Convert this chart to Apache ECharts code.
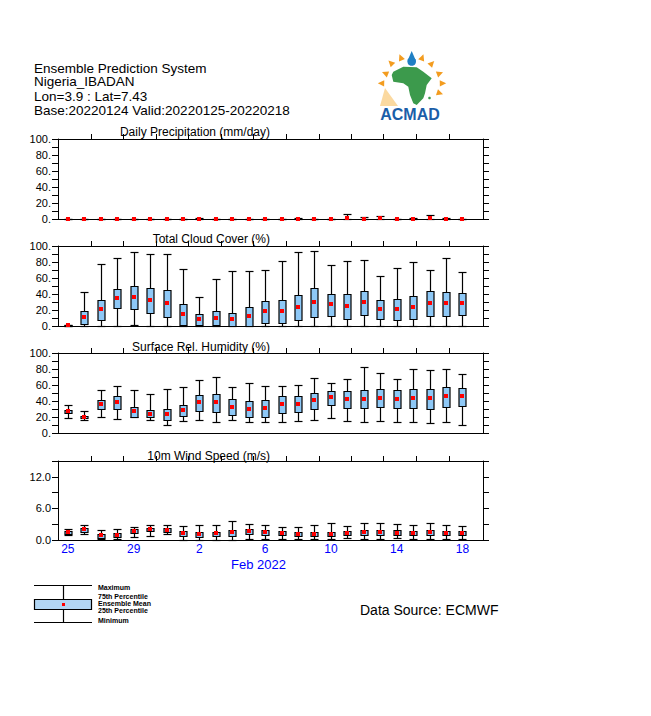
<!DOCTYPE html>
<html><head><meta charset="utf-8">
<script src="https://cdn.jsdelivr.net/npm/echarts@6/dist/echarts.min.js"></script>
<style>html,body{margin:0;padding:0;background:#fff}#c{width:651px;height:716px}</style>
</head><body><div id="c"></div>
<script>
// ---- data (index 0 = Jan 25, 2022 ... index 24 = Feb 18, 2022) ----
const dayLabelIdx = [0, 4, 8, 12, 16, 20, 24];
const dayLabels = ['25', '29', '2', '6', '10', '14', '18'];
const topTicks = [1.40, 3.37, 5.35, 7.33, 9.31, 11.27, 13.3, 15.3, 17.25, 19.2, 21.2, 23.2];

const precMin  = [0,0,0,0,0,0,0,0,0,0,0,0,0,0,0,0,0,0,0,0,0,0,0,0,0];
const precQ1   = [0,0,0,0,0,0,0,0,0,0,0,0,0,0,0,0,0,0,0,0,0,0,0,0,0];
const precQ3   = [0,0,0,0,0,0,0,0,0.3,0,0,0,0,0,0.3,0,0,0.4,0.2,0.3,0,0.2,0.4,0.2,0];
const precMax  = [0,0,0,0,0,0,0,0,1,0,0,0,0,0,1,0,0.5,6.3,2.5,3.8,0,1,5,1,0.5];
const precMean = [0.2,0.2,0.2,0.2,0.2,0.2,0.2,0.2,0.3,0.2,0.2,0.2,0.2,0.2,0.3,0.2,0.3,0.9,0.5,0.7,0.2,0.3,0.8,0.3,0.2];

const cloudMin  = [0,0,0,0,1,0,0,0,0,0,0,0,0,0,0,0,0,0,0,0,0,0,0,0,0];
const cloudQ1   = [0,2.5,7.5,22.5,21.3,16.3,11.3,1.3,1.3,1.3,0,0,3.8,3.8,7.5,11.3,12.5,8.8,13.8,8.8,7.5,8.8,12.5,12.5,13.8];
const cloudQ3   = [1.5,19.2,32.5,46.3,50,47.5,45,27.5,15,19.2,16.7,23.8,31.3,32.5,38.8,47.5,40,40,43.8,32.5,33.8,37.5,43.8,42.5,41.3];
const cloudMax  = [1.5,42.5,77.5,85,92.5,90,90,71.3,36.3,58.8,68.8,68.8,70,81.3,92.5,93.8,76.3,81.3,82.5,62.5,72.5,80,70,85,67.5];
const cloudMean = [1,11.3,20.8,34.6,36.7,32.5,29.2,14.6,8.3,10.4,8.3,12.5,18.3,18.8,23.3,30,27.5,25,29.6,21.7,20.8,23.8,29.2,28.8,28.3];

const rhMin  = [19.2,16.7,20,17.5,20,16.3,10,15,16.3,13.8,16.3,13.8,13.8,13.8,15,16.3,18.8,15,13.8,15,13.8,13.8,12.5,13.8,10];
const rhQ1   = [25,18.8,30,30,20,20,16.3,21.3,27.5,26.3,22.5,20,20,25,26.3,30,35,31.3,31.3,32.5,31.3,31.3,30,32.5,33.8];
const rhQ3   = [28.8,21.7,41.3,46.3,32.5,28.8,30,35,47.5,48.8,42.5,40,41.3,46.3,46.3,50,52.5,52.5,53.8,55,53.8,55,55,57.5,56.3];
const rhMax  = [35,27.5,53.8,58.8,53.8,48.8,55,57.5,66.3,70,57.5,62.5,58.8,58.8,60,68.8,62.5,67.5,82.5,75,67.5,80,78.8,80,73.8];
const rhMean = [27.5,20.4,36.3,38.8,27.9,24.2,23.8,28.3,38.3,38.8,32.9,30.4,31.3,36.7,36.7,41.3,44.6,42.5,42.5,43.8,43,43.8,43.3,46.3,45.8];

const windMin  = [0.96,1.15,0.13,0.2,0.57,0.77,1.08,0.06,0.06,0.06,0.06,0.13,0.13,0.13,0.13,0.13,0.13,0.32,0.13,0.13,0.32,0.13,0.13,0.13,0.13];
const windQ1   = [1.21,1.6,0.45,0.57,1.4,1.72,1.53,0.83,0.64,0.7,0.7,1.15,1.02,0.9,0.7,0.77,0.7,0.9,0.96,0.96,0.9,0.9,0.96,0.9,0.9];
const windQ3   = [1.72,2.3,1.2,1.28,2.17,2.36,2.3,1.66,1.47,1.6,1.85,2.04,1.85,1.66,1.47,1.47,1.47,1.66,1.85,1.85,1.85,1.66,1.85,1.66,1.66];
const windMax  = [2.04,2.8,1.85,2.04,2.4,2.8,2.8,2.6,2.8,2.8,3.57,3.0,2.8,2.4,2.4,2.8,3.2,2.6,3.2,3.2,3.0,2.8,3.2,2.8,2.6];
const windMean = [1.47,2.0,0.9,1.02,1.78,2.17,1.98,1.34,1.15,1.28,1.53,1.66,1.53,1.28,1.15,1.15,1.15,1.34,1.47,1.47,1.4,1.34,1.6,1.4,1.34];

// ---- layout ----
const FONT = 'Liberation Sans';
const panels = [
  {title: 'Daily Precipitation (mm/day)', top: 139, height: 80, max: 100, interval: 10, labelStep: 20, dec: 0,
   s: [precMin, precQ1, precQ3, precMax, precMean], titleY: 131.5},
  {title: 'Total Cloud Cover (%)', top: 246, height: 80, max: 100, interval: 10, labelStep: 20, dec: 0,
   s: [cloudMin, cloudQ1, cloudQ3, cloudMax, cloudMean], titleY: 239},
  {title: 'Surface Rel. Humidity (%)', top: 353, height: 80, max: 100, interval: 10, labelStep: 20, dec: 0,
   s: [rhMin, rhQ1, rhQ3, rhMax, rhMean], titleY: 346.5},
  {title: '10m Wind Speed (m/s)', top: 461, height: 79, max: 15, interval: 3, labelStep: 6, dec: 1,
   s: [windMin, windQ1, windQ3, windMax, windMean], titleY: 455.5}
];
const XMIN = -0.6, XMAX = 25.25;
const BLUE = '#8ec8f6';

function renderBox(params, api) {
  const x = api.value(0);
  const c = i => api.coord([x, api.value(i)]);
  const pMin = c(1), pQ1 = c(2), pQ3 = c(3), pMax = c(4), pMean = c(5);
  const r = v => Math.round(v) + 0.5;
  const cx = r(pMin[0]);
  const bw = 7, cw = 8;
  const yMin = r(pMin[1]), yQ1 = r(pQ1[1]), yQ3 = r(pQ3[1]), yMax = r(pMax[1]);
  const ls = {stroke: '#000', lineWidth: 1.2};
  return {type: 'group', children: [
    {type: 'line', shape: {x1: cx, y1: yMax, x2: cx, y2: yQ3}, style: ls},
    {type: 'line', shape: {x1: cx, y1: yQ1, x2: cx, y2: yMin}, style: ls},
    {type: 'line', shape: {x1: cx - cw / 2, y1: yMax, x2: cx + cw / 2, y2: yMax}, style: ls},
    {type: 'line', shape: {x1: cx - cw / 2, y1: yMin, x2: cx + cw / 2, y2: yMin}, style: ls},
    {type: 'rect', shape: {x: cx - bw / 2, y: yQ3, width: bw, height: Math.max(0, yQ1 - yQ3)},
     style: {fill: BLUE, stroke: '#000', lineWidth: 1.2}},
    {type: 'rect', shape: {x: Math.round(pMean[0]) - 2, y: Math.round(pMean[1]) - 2, width: 4, height: 4},
     style: {fill: '#ff0000'}}
  ]};
}

const grid = [], xAxis = [], yAxis = [], series = [];
const axisLine = {show: true, onZero: false, lineStyle: {color: '#000', width: 1}};
panels.forEach((p, i) => {
  grid.push({left: 58, width: 425, top: p.top, height: p.height});
  xAxis.push({gridIndex: i, type: 'value', min: XMIN, max: XMAX, position: 'bottom',
    axisLine, axisTick: {show: false}, splitLine: {show: false},
    axisLabel: i === 3 ? {
      customValues: dayLabelIdx, color: '#0000ff', fontSize: 12, fontFamily: FONT, margin: 3,
      formatter: v => dayLabels[dayLabelIdx.indexOf(Math.round(v))]
    } : {show: false}});
  xAxis.push({gridIndex: i, type: 'value', min: XMIN, max: XMAX, position: 'top',
    axisLine, axisTick: {show: true, customValues: topTicks, length: 5, lineStyle: {color: '#000'}},
    axisLabel: {show: false}, splitLine: {show: false}});
  const yBase = {gridIndex: i, type: 'value', min: 0, max: p.max, interval: p.interval,
    axisLine, axisTick: {show: true, length: 6, lineStyle: {color: '#000'}}, splitLine: {show: false}};
  yAxis.push(Object.assign({}, yBase, {position: 'left',
    axisLabel: {color: '#000', fontSize: 11, fontFamily: FONT, margin: 7,
      formatter: v => (Math.abs(v / p.labelStep - Math.round(v / p.labelStep)) < 1e-6)
        ? (p.dec ? v.toFixed(p.dec) : v + '.') : ''}}));
  yAxis.push(Object.assign({}, yBase, {position: 'right', axisLabel: {show: false}}));
  const rows = p.s[0].map((_, k) => [k, p.s[0][k], p.s[1][k], p.s[2][k], p.s[3][k], p.s[4][k]]);
  series.push({type: 'custom', xAxisIndex: 2 * i, yAxisIndex: 2 * i, data: rows,
    encode: {x: 0, y: [1, 2, 3, 4, 5]}, renderItem: renderBox, clip: false, silent: true, animation: false});
});

const txt = (text, x, y, o) => Object.assign({type: 'text', x, y, silent: true,
  style: Object.assign({text, fill: '#000', font: '13px "' + FONT + '"', textAlign: 'left', textVerticalAlign: 'middle'}, o || {})});

const graphic = [
  txt('Ensemble Prediction System', 34, 68, {font: '13.5px "' + FONT + '"'}),
  txt('Nigeria_IBADAN', 34, 81.5, {font: '13.5px "' + FONT + '"'}),
  txt('Lon=3.9 : Lat=7.43', 34, 96, {font: '13.5px "' + FONT + '"'}),
  txt('Base:20220124 Valid:20220125-20220218', 34, 110, {font: '13.5px "' + FONT + '"'}),
  txt('Feb 2022', 258.5, 564, {font: '13px "' + FONT + '"', fill: '#0000ff', textAlign: 'center'}),
  txt('Data Source: ECMWF', 360, 610, {font: '14px "' + FONT + '"'})
];
panels.forEach(p => graphic.push(txt(p.title, 270, p.titleY, {font: '12px "' + FONT + '"', textAlign: 'right'})));

// legend
const lg = {stroke: '#000', lineWidth: 1.2};
graphic.push(
  {type: 'line', shape: {x1: 34, y1: 585.5, x2: 92, y2: 585.5}, style: lg},
  {type: 'line', shape: {x1: 34, y1: 622.5, x2: 92, y2: 622.5}, style: lg},
  {type: 'line', shape: {x1: 63.5, y1: 585.5, x2: 63.5, y2: 599.5}, style: lg},
  {type: 'line', shape: {x1: 63.5, y1: 609.5, x2: 63.5, y2: 622.5}, style: lg},
  {type: 'rect', shape: {x: 34.5, y: 599.5, width: 57, height: 10}, style: {fill: '#b2d6f4', stroke: '#000', lineWidth: 1.2}},
  {type: 'rect', shape: {x: 62, y: 603, width: 3, height: 3}, style: {fill: '#ff0000'}}
);
const lf = {font: 'bold 7px "' + FONT + '"'};
graphic.push(
  txt('Maximum', 98, 587, lf),
  txt('75th Percentile', 98, 596, lf),
  txt('Ensemble Mean', 98, 603.5, lf),
  txt('25th Percentile', 98, 610.5, lf),
  txt('Minimum', 98, 620, lf)
);

// ACMAD logo (decorative)
const cxL = 412, cyL = 84;
const triCenters = [[400.7,57.3],[422.3,57.3],[390.7,62.7],[432,63.3],[385,73.3],[440,73.3],[381,83.3],[443,83.3],[440,93.3]];
triCenters.forEach(([tx, ty]) => {
  const a = Math.atan2(ty - cyL, tx - cxL);
  const s = 3.2;
  const pts = [
    [tx + Math.cos(a) * s, ty + Math.sin(a) * s],
    [tx - Math.cos(a) * s + Math.cos(a + Math.PI / 2) * s, ty - Math.sin(a) * s + Math.sin(a + Math.PI / 2) * s],
    [tx - Math.cos(a) * s - Math.cos(a + Math.PI / 2) * s, ty - Math.sin(a) * s - Math.sin(a + Math.PI / 2) * s]
  ];
  graphic.push({type: 'polygon', shape: {points: pts}, style: {fill: '#f39c1f'}, silent: true});
});
graphic.push(
  {type: 'polygon', shape: {points: [[385, 88], [380, 106], [398, 106]]}, style: {fill: '#fbd9a0'}, silent: true},
  {type: 'polygon', shape: {points: [[393.3,71.7],[403.3,66.7],[416.7,67.3],[423.3,71.7],[431.7,78.3],[426.7,85],[425,93.3],[423.3,98.3],[416.7,105],[413.3,103.3],[410,95],[408.3,86.7],[403.3,83.3],[393.3,81.7],[391.7,75]]},
   style: {fill: '#3c9a4c'}, silent: true},
  {type: 'circle', shape: {cx: 429.5, cy: 98, r: 1.3}, style: {fill: '#3c9a4c'}, silent: true},
  {type: 'circle', shape: {cx: 411.7, cy: 61.5, r: 4.3}, style: {fill: '#1f7fc4'}, silent: true},
  {type: 'polygon', shape: {points: [[411.7, 51], [407.6, 60.5], [415.8, 60.5]]}, style: {fill: '#1f7fc4'}, silent: true},
  txt('ACMAD', 410, 114, {font: 'bold 16px "' + FONT + '"', fill: '#1b5ea8', textAlign: 'center'})
);

const chart = echarts.init(document.getElementById('c'), null, {renderer: 'svg'});
chart.setOption({animation: false, backgroundColor: '#fff', grid, xAxis, yAxis, series, graphic});
</script>
</body></html>
